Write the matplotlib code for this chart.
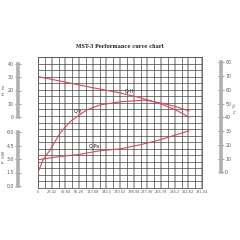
import numpy as np
import matplotlib
matplotlib.use("Agg")
import matplotlib.pyplot as plt

# Values
flow_ticks = [0, 28.42, 56.84, 85.26, 113.68, 142.1, 170.52, 198.94, 227.36, 255.78, 284.2, 312.62, 341.04]
flow_tick_labels = ["0", "28.42", "56.84", "85.26", "113.68", "142.1", "170.52", "198.94",
                    "227.36", "255.78", "284.2", "312.62", "341.04"]

q_head = [0, 56, 114, 170.5, 212, 253.6, 284.8, 314]
head = [30.5, 26.4, 22.1, 18.2, 14.6, 10.1, 5.6, 0]

q_eff = [0, 10.4, 25, 45.7, 66.5, 101, 129, 170.5, 222.5, 253.6, 284.8, 314]
eff = [0, 9, 16.2, 28.4, 36.8, 45.3, 49, 51.3, 52.5, 50.5, 48, 44.6]

q_power = [0, 45.7, 87.3, 128.9, 170.5, 212, 253.6, 314]
power = [2.9, 3.26, 3.5, 3.9, 4.1, 4.55, 5.1, 6.1]

head_ticks = [0, 10, 20, 30, 40]
power_ticks = [0, 1.5, 3, 4.5, 6]
eff_ticks = [0, 10, 20, 30, 40, 50, 60, 70, 80]

# layout in pixels (240 x 240 canvas)
S = 240
L, R, T, B = 38, 202, 57, 188
RED = "#d24a5a"


def fx(px):
    return px / S


def fy(py):
    return 1 - py / S


fig = plt.figure(figsize=(2.4, 2.4), dpi=100)
fig.patch.set_facecolor("white")

# grid area
ax = fig.add_axes([fx(L), fy(B), (R - L) / S, (B - T) / S])
ax.set_xlim(0, flow_ticks[-1])
ax.set_ylim(0, 20)
ax.set_xticks(flow_ticks)
ax.set_xticklabels(flow_tick_labels)
ax.set_xticks(np.arange(0, flow_ticks[-1] + 1, flow_ticks[1] / 2), minor=True)
ax.set_yticks(range(21))
ax.grid(which="major", axis="x", color="#a8a8a8", lw=1.3)
ax.grid(which="minor", axis="x", color="#444444", lw=0.5)
ax.grid(which="major", axis="y", color="#444444", lw=0.5)
ax.tick_params(axis="y", length=0, labelleft=False)
ax.tick_params(axis="x", which="both", length=0, labelsize=2.5, labelcolor="#555555", pad=1.5)
for s in ax.spines.values():
    s.set_color("#555555")
    s.set_linewidth(0.6)


def curve_axis(v0, py0, v1, py1):
    # twin axis whose value v0 sits at pixel row py0 and v1 at py1
    a = ax.twinx()
    per = (py0 - py1) / (v1 - v0)
    a.set_ylim(v0 - (B - py0) / per, v0 + (py0 - T) / per)
    a.set_axis_off()
    return a


ax_h = curve_axis(0, 117, 40, 64)
ax_e = curve_axis(0, 172.3, 80, 62.3)
ax_p = curve_axis(0, 186, 6, 131.7)

ax_h.plot(q_head, head, color=RED, lw=0.8)
ax_e.plot(q_eff, eff, color=RED, lw=0.8)
ax_p.plot(q_power, power, color=RED, lw=0.8)

ax.text((129 - L) / (R - L), (B - 91) / (B - T), "Q-H", transform=ax.transAxes,
        fontsize=3.4, ha="center", va="center", color="#222222")
ax.text((78 - L) / (R - L), (B - 112) / (B - T), "Q-η", transform=ax.transAxes,
        fontsize=3.4, ha="center", va="center", color="#222222")
ax.text((94 - L) / (R - L), (B - 146) / (B - T), "Q-Pa", transform=ax.transAxes,
        fontsize=3.4, ha="center", va="center", color="#222222")


def scale_bar(px, top, bot, lim, ticks, side):
    b = fig.add_axes([fx(px), fy(bot), 0.0001, (bot - top) / S])
    b.set_ylim(*lim)
    b.set_yticks(ticks)
    b.set_xticks([])
    b.patch.set_visible(False)
    for k, s in b.spines.items():
        s.set_visible(k == side)
    b.spines[side].set_color("#b0b0b0")
    b.spines[side].set_linewidth(2.6)
    if side == "right":
        b.yaxis.tick_right()
    b.tick_params(axis="y", direction="inout", length=5, width=0.5, color="#777777",
                  labelsize=3.4, labelcolor="#555555", pad=0.5)
    return b


scale_bar(18, 64, 117, (0, 40), head_ticks, "left")
scale_bar(18, 132, 186, (0, 6), power_ticks, "left")
scale_bar(221, 62.3, 172.3, (0, 80), eff_ticks, "right")

fig.text(fx(4), fy(90), "H  m", rotation=90, fontsize=3.2, color="#555555", ha="center", va="center")
fig.text(fx(4), fy(157), "P  kW", rotation=90, fontsize=3.2, color="#555555", ha="center", va="center")
fig.text(fx(235), fy(108), "η  %", rotation=90, fontsize=3.2, color="#555555", ha="center", va="center")

fig.text(0.5, fy(46), "MST-3 Performance curve chart", fontsize=3.5, fontweight="bold",
         family="DejaVu Serif", ha="center", va="center", color="#222222")

fig.savefig("out.png", dpi=100)
